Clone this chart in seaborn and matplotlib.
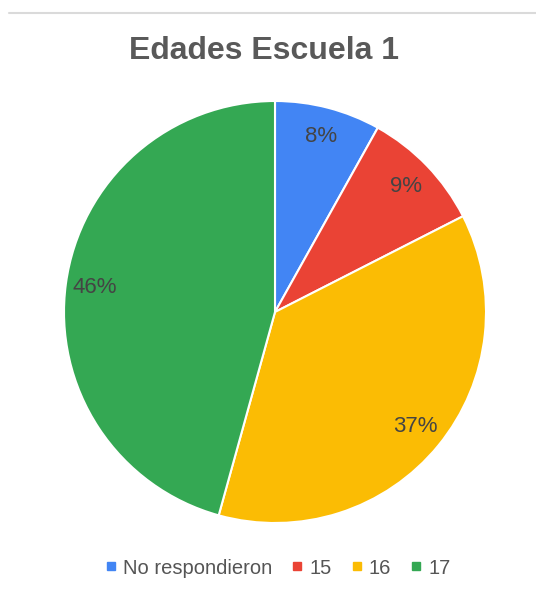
import matplotlib
matplotlib.use("Agg")
import matplotlib.pyplot as plt
from matplotlib.lines import Line2D
import seaborn as sns

# Data
categories = ["No respondieron", "15", "16", "17"]
shares = [8.1, 9.4, 36.8, 45.7]
colors = ["#4285F4", "#EA4335", "#FBBC04", "#34A853"]

sns.set_style("white")
plt.rcParams["font.family"] = ["Liberation Sans", "DejaVu Sans"]

fig = plt.figure(figsize=(5.36, 5.94), dpi=100)

# pie area: centre ~ (275, 312) px, radius ~211 px
r = 211
ax = fig.add_axes([(275 - r) / 536, (594 - 312 - r) / 594, 2 * r / 536, 2 * r / 594])
wedges, texts, autotexts = ax.pie(
    shares, colors=colors, startangle=90, counterclock=False,
    autopct="%1.0f%%", pctdistance=0.86,
    wedgeprops=dict(edgecolor="white", linewidth=1.5),
    textprops=dict(color="#444444", fontsize=16),
)
for w in wedges:
    w.set_clip_on(False)
ax.set_xlim(-1, 1)
ax.set_ylim(-1, 1)
ax.set_aspect("equal")

fig.text(264 / 536, 1 - 51 / 594, "Edades Escuela 1", ha="center", va="center",
         fontsize=23, fontweight="bold", color="#595959")

# thin border line at the top of the screenshot
fig.add_artist(Line2D([9 / 536, 1], [1 - 13 / 594, 1 - 13 / 594],
                      color="#dadada", linewidth=1.5, transform=fig.transFigure))

handles = [Line2D([], [], marker="s", linestyle="", markersize=5.5,
                  markerfacecolor=c, markeredgecolor=c) for c in colors]
fig.legend(handles, categories, loc="center", ncol=4,
           bbox_to_anchor=(278 / 536, 1 - 568 / 594), frameon=False,
           fontsize=14.5, handlelength=0.5, handletextpad=0.35, columnspacing=1.0,
           labelcolor="#555555")

fig.savefig("out.png", dpi=100, facecolor="white")
